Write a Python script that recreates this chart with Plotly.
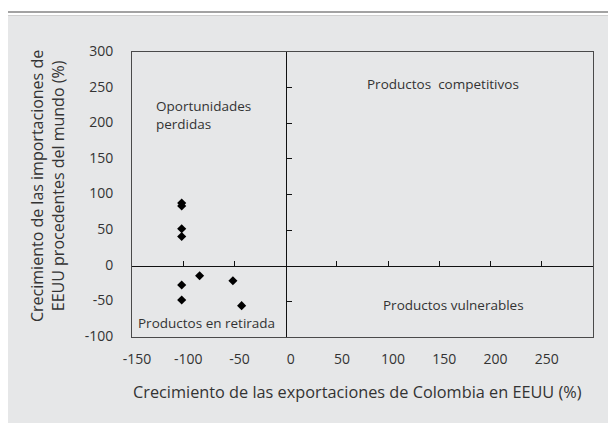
import plotly.graph_objects as go

# Data
x_export_growth = [-101.5, -101.5, -101.5, -101.5, -101.5, -101.5, -84, -51.5, -43]
y_import_growth = [88, 84, 52, 41, -27, -48, -14, -21, -56]

x_ticks = [-150, -100, -50, 0, 50, 100, 150, 200, 250, 300]
x_tick_text = ["-150", "-100", "-50", "0", "50", "100", "150", "200", "250", "300"]
y_ticks = [-100, -50, 0, 50, 100, 150, 200, 250, 300]
y_tick_text = ["-100", "-50", "0", "50", "100", "150", "200", "250", "300"]
x_inner_ticks = [-100, -50, 50, 100, 150, 200, 250]
y_inner_ticks = [-50, 50, 100, 150, 200, 250]

quadrant_labels = ["Productos  competitivos", "Productos vulnerables",
                   "Productos en retirada", "Oportunidades<br>perdidas"]
quadrant_x = [154, 164, -77, -128.5]
quadrant_y = [255, -55, -80, 212]

x_title = "Crecimiento de las exportaciones de Colombia en EEUU (%)"
y_title = "Crecimiento de las importaciones de<br>EEUU procedentes del mundo (%)"

W, H = 608, 423
L, R, T, B = 132, 15, 52, 86
pw, ph = W - L - R, H - T - B

def px(xp):
    return (xp - L) / pw

def py(yp):
    return (H - B - yp) / ph

FONT = "Open Sans"
TXT = "#333333"
PANEL = "#e6e7e8"

fig = go.Figure()
fig.add_trace(go.Scatter(
    x=x_export_growth, y=y_import_growth, mode="markers",
    marker=dict(symbol="diamond", size=7, color="black"),
    showlegend=False, hoverinfo="x+y"))
fig.add_trace(go.Scatter(
    x=x_export_growth, y=y_import_growth, mode="markers",
    xaxis="x2", yaxis="y2",
    marker=dict(symbol="diamond", size=7, color="black", opacity=0),
    showlegend=False, hoverinfo="skip"))

axis_common = dict(showgrid=False, zeroline=False, showline=True, mirror=True,
                   linecolor="#4a4a4a", linewidth=1, ticks="",
                   tickfont=dict(family=FONT, size=14, color=TXT))

fig.update_layout(
    width=W, height=H,
    margin=dict(l=L, r=R, t=T, b=B, pad=0),
    paper_bgcolor="white", plot_bgcolor="rgba(0,0,0,0)",
    font=dict(family=FONT, color=TXT),
    xaxis=dict(range=[-150, 300], tickvals=x_ticks, ticktext=x_tick_text,
               ticklabelstandoff=9, ticklabelshift=5, **axis_common),
    yaxis=dict(range=[-100, 300], tickvals=y_ticks, ticktext=y_tick_text,
               ticklabelstandoff=15, ticklabelshift=-1, **axis_common),
    xaxis2=dict(overlaying="x", anchor="free", position=(0 - (-100)) / 400,
                range=[-150, 300], tickvals=x_inner_ticks, showticklabels=False,
                showgrid=False, zeroline=False, showline=True, linecolor="#111111",
                linewidth=1, ticks="inside", ticklen=5, tickcolor="#111111"),
    yaxis2=dict(overlaying="y", anchor="free", position=(0 - (-150)) / 450, side="left",
                range=[-100, 300], tickvals=y_inner_ticks, showticklabels=False,
                showgrid=False, zeroline=False, showline=True, linecolor="#111111",
                linewidth=1, ticks="inside", ticklen=5, tickcolor="#111111"),
    showlegend=False,
)

# background panel and top rules
fig.add_shape(type="rect", xref="paper", yref="paper",
              x0=px(8), x1=px(W + 2), y0=py(H + 2), y1=py(16),
              fillcolor=PANEL, line_width=0, layer="below")
fig.add_shape(type="line", xref="paper", yref="paper",
              x0=px(8), x1=px(W + 2), y0=py(12), y1=py(12),
              line=dict(color="#a3a3a3", width=2), layer="below")
fig.add_shape(type="line", xref="paper", yref="paper",
              x0=px(8), x1=px(W + 2), y0=py(15.5), y1=py(15.5),
              line=dict(color="#cfcfcf", width=1), layer="below")

for txt, xx, yy in zip(quadrant_labels, quadrant_x, quadrant_y):
    left = "<br>" in txt
    fig.add_annotation(x=xx, y=yy, xref="x", yref="y", text=txt, showarrow=False,
                       xanchor="left" if left else "center", align="left",
                       font=dict(family=FONT, size=13.5, color=TXT))

fig.add_annotation(x=px(357), y=py(392), xref="paper", yref="paper", text=x_title,
                   showarrow=False, xanchor="center", yanchor="middle",
                   font=dict(family=FONT, size=16.3, color=TXT))
fig.add_annotation(x=px(47), y=py(186), xref="paper", yref="paper", text=y_title,
                   showarrow=False, xanchor="center", yanchor="middle", textangle=-90,
                   font=dict(family=FONT, size=16, color=TXT))

fig.write_html(
    "out.html",
    config={"displayModeBar": False},
    post_script="document.body.style.margin='0';"
                "document.documentElement.style.overflow='hidden';",
)
